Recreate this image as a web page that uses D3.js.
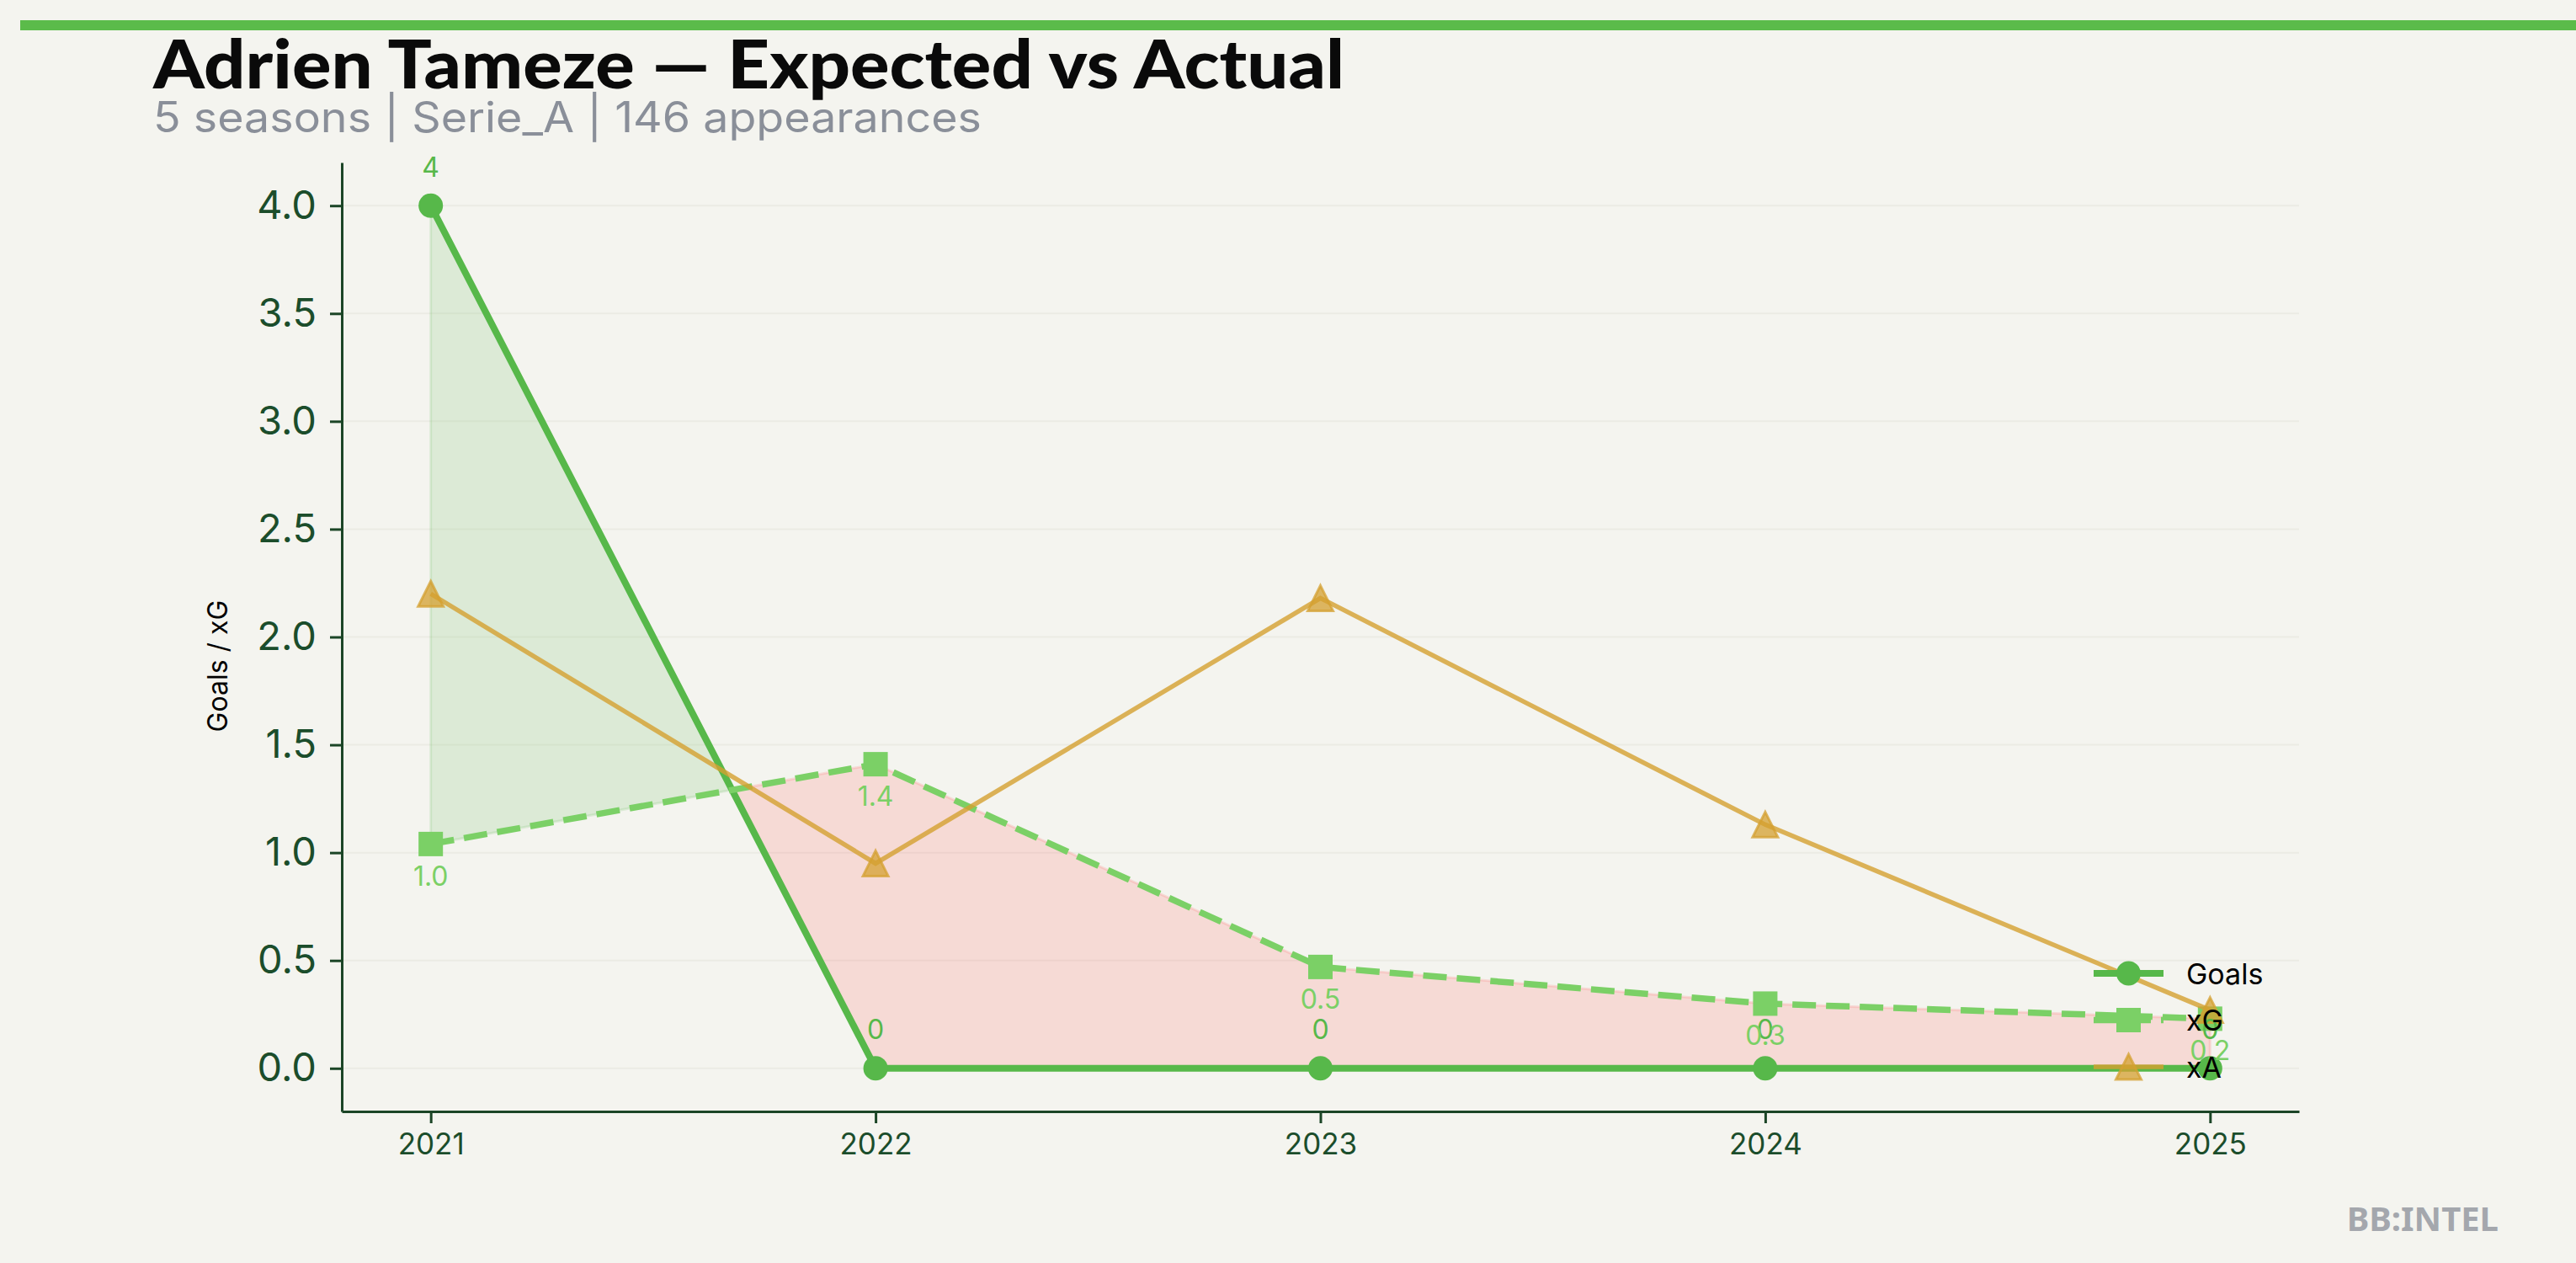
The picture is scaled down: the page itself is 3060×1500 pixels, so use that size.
<!DOCTYPE html>
<html>
<head>
<meta charset="utf-8">
<script src="https://cdn.jsdelivr.net/npm/d3@7"></script>
<style>
  html, body { margin: 0; padding: 0; background: #f4f4ef; }
  svg { display: block; }
</style>
</head>
<body>
<script>
// ---- data ----
const seasons = [2021, 2022, 2023, 2024, 2025];
const goals = [4, 0, 0, 0, 0];
const xg = [1.04, 1.41, 0.47, 0.30, 0.23];
const xa = [2.20, 0.95, 2.18, 1.13, 0.27];
const yTicks = [0, 0.5, 1.0, 1.5, 2.0, 2.5, 3.0, 3.5, 4.0];
const seriesNames = ["Goals", "xG", "xA"];
const titleText = "Adrien Tameze \u2014 Expected vs Actual";
const subtitleText = "5 seasons | Serie_A | 146 appearances";
const yLabel = "Goals / xG";
const watermark = "BB:INTEL";

// ---- layout ----
const W = 3060, H = 1500;
const C = { bg: "#f4f4ef", goals: "#57b84a", xg: "#7bd066", xa: "#d4a030", axis: "#1b4526", tick: "#1b4d2b", grid: "#ebebe4", red: "#ff5a5a" };
const svg = d3.select("body").append("svg").attr("width", W).attr("height", H);
svg.append("rect").attr("width", W).attr("height", H).attr("fill", C.bg);

const x = d3.scaleLinear().domain([2020.8, 2025.2]).range([406, 2731]);
const y = d3.scaleLinear().domain([-0.2, 4.2]).range([1320, 193]);

// top bar
svg.append("rect").attr("x", 24).attr("y", 24).attr("width", W - 24).attr("height", 12).attr("fill", "#5bbb4a");

// title & subtitle
svg.append("text").attr("x", 182).attr("y", 105)
  .attr("font-family", "Lato, 'Open Sans', sans-serif").attr("font-weight", 900).attr("font-size", 80)
  .attr("fill", "#0a0a0a").attr("textLength", 1415).attr("lengthAdjust", "spacingAndGlyphs").text(titleText);
svg.append("text").attr("x", 182).attr("y", 157)
  .attr("font-family", "Inter, sans-serif").attr("font-size", 50)
  .attr("fill", "#8a8f99").attr("textLength", 984).attr("lengthAdjust", "spacingAndGlyphs").text(subtitleText);

// grid
svg.append("g").selectAll("line").data(yTicks).join("line")
  .attr("x1", x.range()[0]).attr("x2", x.range()[1])
  .attr("y1", d => y(d)).attr("y2", d => y(d))
  .attr("stroke", C.grid).attr("stroke-width", 2);

// fill between with interpolation
const pts = [];
for (let i = 0; i < seasons.length; i++) {
  pts.push({ s: seasons[i], g: goals[i], e: xg[i], d: goals[i] - xg[i] });
  if (i < seasons.length - 1) {
    const d0 = goals[i] - xg[i], d1 = goals[i + 1] - xg[i + 1];
    if (d0 * d1 < 0) {
      const t = d0 / (d0 - d1);
      const s = seasons[i] + t * (seasons[i + 1] - seasons[i]);
      const v = xg[i] + t * (xg[i + 1] - xg[i]);
      pts.push({ s: s, g: v, e: v, d: 0 });
    }
  }
}
svg.append("path")
  .attr("d", d3.area().x(d => x(d.s)).y0(d => y(d.e)).y1(d => y(d.g)).defined(d => d.d >= 0)(pts))
  .attr("fill", C.goals).attr("fill-opacity", 0.15)
  .attr("stroke", C.goals).attr("stroke-opacity", 0.15).attr("stroke-width", 3);
svg.append("path")
  .attr("d", d3.area().x(d => x(d.s)).y0(d => y(d.e)).y1(d => y(d.g)).defined(d => d.d <= 0)(pts))
  .attr("fill", C.red).attr("fill-opacity", 0.17)
  .attr("stroke", C.red).attr("stroke-opacity", 0.17).attr("stroke-width", 3);

const line = d3.line().x(d => x(d[0])).y(d => y(d[1]));
const zip = arr => seasons.map((s, i) => [s, arr[i]]);

// Goals
svg.append("path").attr("d", line(zip(goals))).attr("fill", "none")
  .attr("stroke", C.goals).attr("stroke-width", 8).attr("stroke-linejoin", "round");
svg.append("g").selectAll("circle").data(zip(goals)).join("circle")
  .attr("cx", d => x(d[0])).attr("cy", d => y(d[1])).attr("r", 14.5).attr("fill", C.goals);

// xG
svg.append("path").attr("d", line(zip(xg))).attr("fill", "none")
  .attr("stroke", C.xg).attr("stroke-width", 7.5).attr("stroke-dasharray", "28,12");
svg.append("g").selectAll("rect").data(zip(xg)).join("rect")
  .attr("x", d => x(d[0]) - 14.5).attr("y", d => y(d[1]) - 14.5).attr("width", 29).attr("height", 29).attr("fill", C.xg);

// xA
const tri = "M0,-15L15,15L-15,15Z";
svg.append("path").attr("d", line(zip(xa))).attr("fill", "none")
  .attr("stroke", C.xa).attr("stroke-opacity", 0.8).attr("stroke-width", 5.5);
svg.append("g").selectAll("path").data(zip(xa)).join("path")
  .attr("d", tri).attr("transform", d => `translate(${x(d[0])},${y(d[1])})`)
  .attr("fill", C.xa).attr("fill-opacity", 0.75)
  .attr("stroke", C.xa).attr("stroke-opacity", 0.75).attr("stroke-width", 3).attr("stroke-linejoin", "miter");

// value labels
svg.append("g").selectAll("text").data(zip(goals)).join("text")
  .attr("x", d => x(d[0])).attr("y", d => y(d[1]) - 46)
  .attr("text-anchor", "middle").attr("dominant-baseline", "central")
  .attr("font-family", "Inter, sans-serif").attr("font-size", 32).attr("fill", C.goals)
  .text(d => d3.format("d")(d[1]));
svg.append("g").selectAll("text").data(zip(xg)).join("text")
  .attr("x", d => x(d[0])).attr("y", d => y(d[1]) + 38)
  .attr("text-anchor", "middle").attr("dominant-baseline", "central")
  .attr("font-family", "Inter, sans-serif").attr("font-size", 32).attr("fill", C.xg)
  .text(d => d3.format(".1f")(d[1]));

// axes
const yAxis = svg.append("g").attr("transform", `translate(${x.range()[0]},0)`)
  .call(d3.axisLeft(y).tickValues(yTicks).tickFormat(d3.format(".1f")).tickSize(14).tickPadding(16).tickSizeOuter(0));
yAxis.select(".domain").attr("stroke", C.axis).attr("stroke-width", 3);
yAxis.selectAll(".tick line").attr("stroke", C.axis).attr("stroke-width", 3);
yAxis.selectAll(".tick text").attr("fill", C.tick).attr("font-family", "Inter, sans-serif").attr("font-size", 47);

const xAxis = svg.append("g").attr("transform", `translate(0,${y.range()[0]})`)
  .call(d3.axisBottom(x).tickValues(seasons).tickFormat(d3.format("d")).tickSize(14).tickPadding(12).tickSizeOuter(0));
xAxis.select(".domain").attr("stroke", C.axis).attr("stroke-width", 3);
xAxis.selectAll(".tick line").attr("stroke", C.axis).attr("stroke-width", 3);
xAxis.selectAll(".tick text").attr("fill", C.tick).attr("font-family", "Inter, sans-serif").attr("font-size", 35);

// y label
svg.append("text").attr("transform", "translate(258,791) rotate(-90)")
  .attr("text-anchor", "middle").attr("dominant-baseline", "central")
  .attr("font-family", "Inter, sans-serif").attr("font-size", 32).attr("fill", "#000").text(yLabel);

// legend
const lg = svg.append("g").attr("transform", "translate(2487,1156)");
const rows = lg.selectAll("g").data(seriesNames).join("g").attr("transform", (d, i) => `translate(0,${i * 55.5})`);
rows.append("line").attr("x1", 0).attr("x2", 83).attr("y1", 0).attr("y2", 0)
  .attr("stroke", (d, i) => [C.goals, C.xg, C.xa][i])
  .attr("stroke-width", (d, i) => [8, 7.5, 5.5][i])
  .attr("stroke-opacity", (d, i) => i === 2 ? 0.8 : 1)
  .attr("stroke-dasharray", (d, i) => i === 1 ? "28,12" : null);
rows.filter((d, i) => i === 0).append("circle").attr("cx", 41.5).attr("cy", 0).attr("r", 14.5).attr("fill", C.goals);
rows.filter((d, i) => i === 1).append("rect").attr("x", 27).attr("y", -14.5).attr("width", 29).attr("height", 29).attr("fill", C.xg);
rows.filter((d, i) => i === 2).append("path").attr("d", tri).attr("transform", "translate(41.5,0)")
  .attr("fill", C.xa).attr("fill-opacity", 0.75).attr("stroke", C.xa).attr("stroke-opacity", 0.75).attr("stroke-width", 3);
rows.append("text").attr("x", 110).attr("y", 0).attr("dominant-baseline", "central")
  .attr("font-family", "Inter, sans-serif").attr("font-size", 34).attr("fill", "#000").text(d => d);

// watermark
svg.append("text").attr("x", 2968).attr("y", 1462).attr("text-anchor", "end")
  .attr("font-family", "'Noto Sans', sans-serif").attr("font-weight", 700).attr("font-size", 40)
  .attr("fill", "#a4a7ad").text(watermark);
</script>
</body>
</html>
